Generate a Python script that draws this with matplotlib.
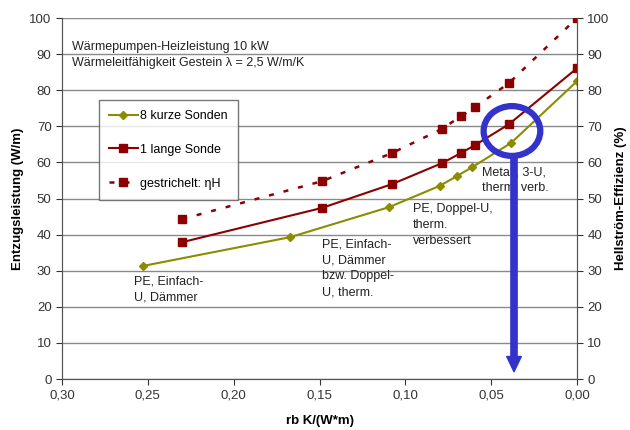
import matplotlib.pyplot as plt
from matplotlib.patches import Ellipse
from matplotlib.ticker import FuncFormatter

plt.rcParams['font.family'] = ['Liberation Sans', 'DejaVu Sans']

# Daten
rb_kurz = [0.253, 0.167, 0.1095, 0.080, 0.070, 0.061, 0.0384, 0.0]
leistung_kurz = [31.3, 39.3, 47.6, 53.5, 56.2, 58.7, 65.4, 82.5]

rb_lang = [0.230, 0.1485, 0.1077, 0.0786, 0.0676, 0.0594, 0.0396, 0.0]
leistung_lang = [37.9, 47.4, 54.0, 59.8, 62.6, 64.8, 70.6, 86.1]
effizienz = [44.3, 54.8, 62.6, 69.3, 72.8, 75.3, 82.0, 100.0]

x_ticks = [0.30, 0.25, 0.20, 0.15, 0.10, 0.05, 0.00]
y_ticks = list(range(0, 101, 10))

olive = '#8c8c00'
dunkelrot = '#8b0000'
blau = '#3333cc'

fig = plt.figure(figsize=(6.3, 4.3), dpi=100)
ax = fig.add_axes([0.0984, 0.1186, 0.8175, 0.8395])
ax2 = ax.twinx()

ax.set_xlim(0.30, 0.0)
ax.set_ylim(0, 100)
ax2.set_ylim(0, 100)

ax.set_yticks(y_ticks)
ax2.set_yticks(y_ticks)
ax.set_xticks(x_ticks)
ax.xaxis.set_major_formatter(FuncFormatter(lambda v, p: f"{v:.2f}".replace('.', ',')))

ax.grid(axis='y', color='#8a8a8a', linewidth=1.0)
ax.set_axisbelow(True)
for a in (ax, ax2):
    a.spines['top'].set_visible(False)
    for s in ('left', 'right', 'bottom'):
        a.spines[s].set_color('#555555')
    a.tick_params(colors='#333333', labelsize=9.5, length=4, direction='out')

l1, = ax.plot(rb_kurz, leistung_kurz, color=olive, marker='D', markersize=4,
              linewidth=1.5, label='8 kurze Sonden')
l2, = ax.plot(rb_lang, leistung_lang, color=dunkelrot, marker='s', markersize=6,
              linewidth=1.5, label='1 lange Sonde')
l3, = ax2.plot(rb_lang, effizienz, color=dunkelrot, marker='s', markersize=6,
               linewidth=1.8, linestyle=(0, (2, 4)), label='gestrichelt: ηH')

ax.set_ylabel('Entzugsleistung (W/m)', fontsize=9.5, fontweight='bold', labelpad=4)
ax2.set_ylabel('Hellström-Effizienz (%)', fontsize=9.5, fontweight='bold', labelpad=4)
ax.set_xlabel('rb K/(W*m)', fontsize=9.5, fontweight='bold', labelpad=10)

leg = ax2.legend(handles=[l1, l2, l3], loc='upper left', bbox_to_anchor=(0.072, 0.773),
                 fontsize=9, frameon=True, fancybox=False, labelspacing=1.75,
                 handlelength=2.3, handletextpad=0.2, borderpad=0.8, borderaxespad=0)
leg.get_frame().set_edgecolor('#555555')
leg.get_frame().set_linewidth(1.0)

ax.text(0.294, 92, 'Wärmepumpen-Heizleistung 10 kW', fontsize=9, va='center', color='#222222')
ax.text(0.294, 87.5, 'Wärmeleitfähigkeit Gestein λ = 2,5 W/m/K', fontsize=9, va='center',
        color='#222222')

ax.text(0.258, 28.8, 'PE, Einfach-\nU, Dämmer', fontsize=9, va='top', linespacing=1.45,
        color='#222222')
ax.text(0.1485, 39.0, 'PE, Einfach-\nU, Dämmer\nbzw. Doppel-\nU, therm.', fontsize=9,
        va='top', linespacing=1.45, color='#222222')
ax.text(0.0955, 48.7, 'PE, Doppel-U,\ntherm.\nverbessert', fontsize=9, va='top',
        linespacing=1.45, color='#222222')
ax.text(0.0553, 59.0, 'Metall, 3-U,\ntherm. verb.', fontsize=9, va='top', linespacing=1.45,
        color='#222222')

# Markierung
ax2.add_patch(Ellipse((0.0379, 68.7), 0.0330, 13.8, fill=False, edgecolor=blau, linewidth=4.5,
                      zorder=5))
ax2.annotate('', xy=(0.0367, 2.0), xytext=(0.0367, 62.0),
             arrowprops=dict(arrowstyle='simple,head_length=1.1,head_width=1.05,tail_width=0.45',
                             color=blau, shrinkA=0, shrinkB=0), zorder=5)

fig.savefig('out.png', dpi=100)
